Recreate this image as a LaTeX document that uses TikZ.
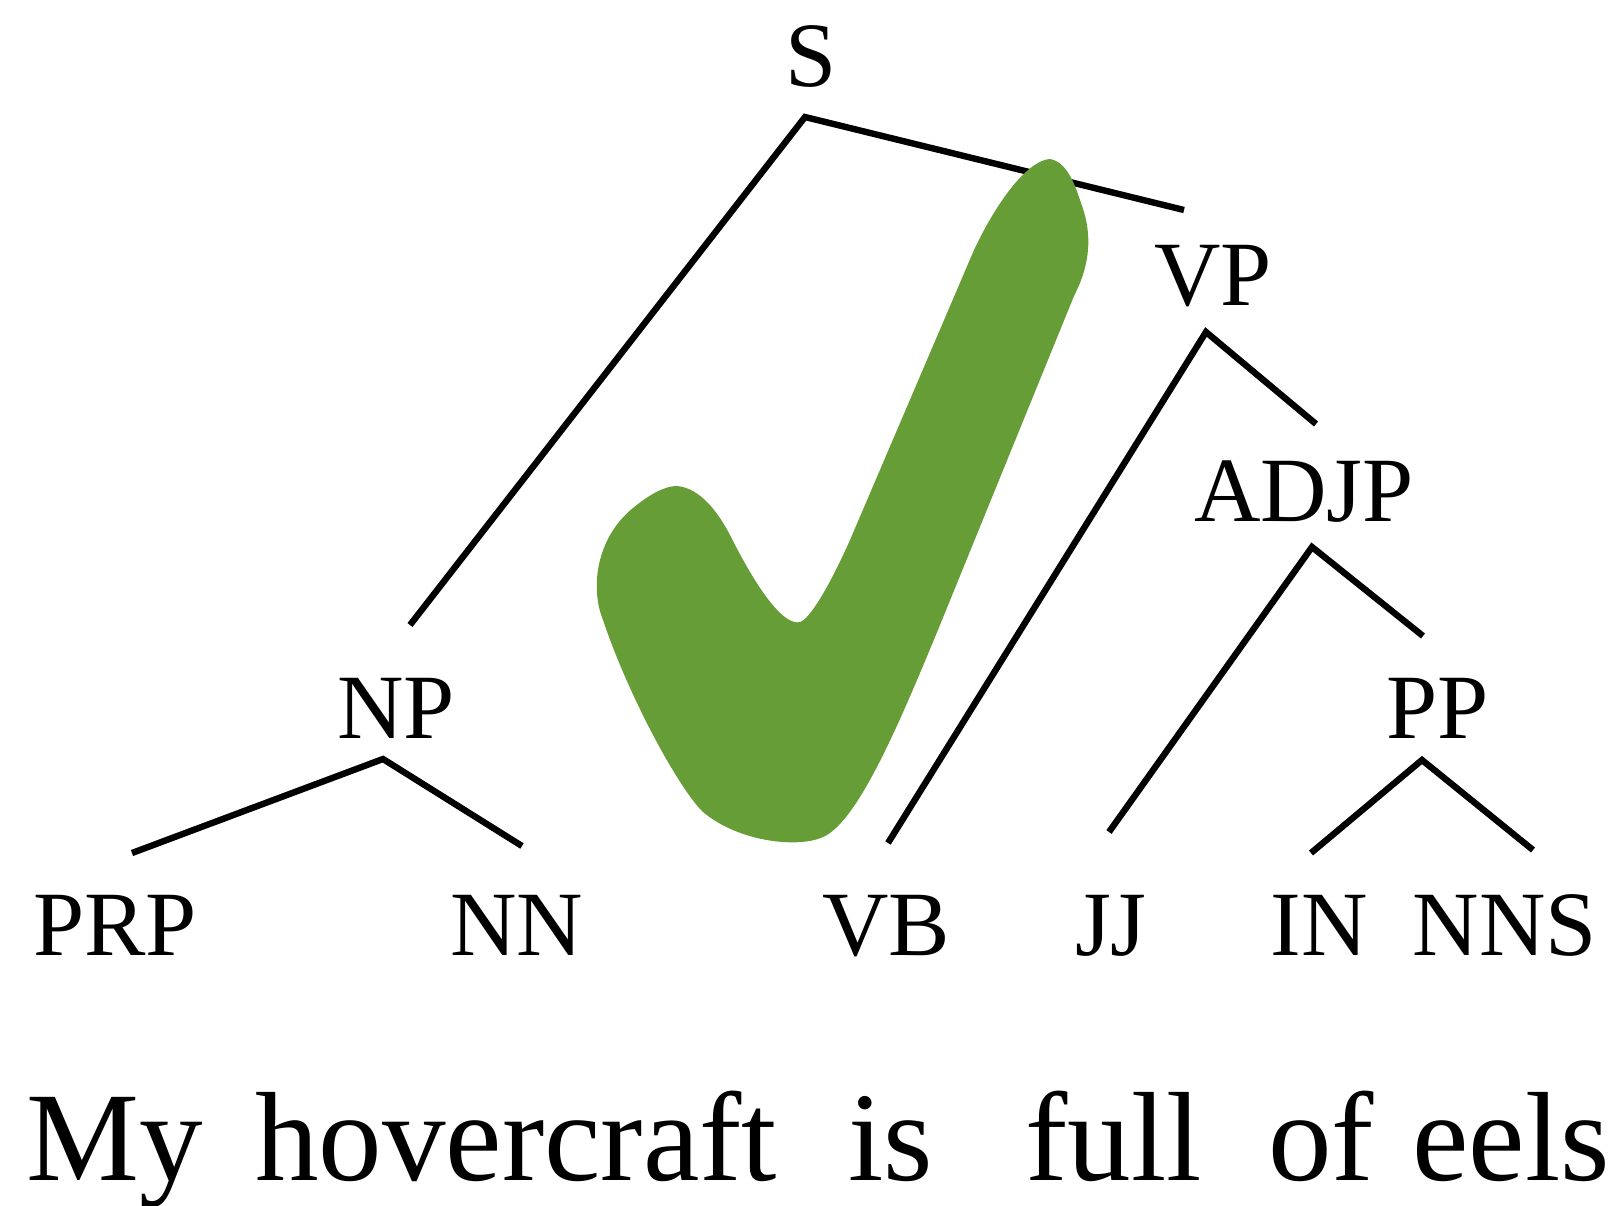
\documentclass[tikz,border=0pt]{standalone}
\usepackage{fontspec}
\setmainfont{Liberation Serif}
\definecolor{checkgreen}{RGB}{102,157,55}
\begin{document}
\begin{tikzpicture}[x=0.5pt,y=-0.5pt,
  lbl/.style={inner sep=0pt, anchor=base, font=\fontsize{46}{50}\selectfont},
  word/.style={inner sep=0pt, anchor=base west, font=\fontsize{63.5}{70}\selectfont},
  branch/.style={line width=3.2pt, draw=black, line join=miter},
  checkmark/.style={fill=checkgreen, draw=none}]
\useasboundingbox (0,0) rectangle (1614,1206);

% labels
\node[lbl] (S) at (811,86) {S};
\node[lbl] (VP) at (1213,305) {VP};
\node[lbl] (ADJP) at (1304,521) {ADJP};
\node[lbl] (NP) at (396,738) {NP};
\node[lbl] (PP) at (1438,738) {PP};
\node[lbl] (PRP) at (115,955) {PRP};
\node[lbl] (NN) at (517,955) {NN};
\node[lbl] (VB) at (886,955) {VB};
\node[lbl] (JJ) at (1111,955) {JJ};
\node[lbl] (IN) at (1319,955) {IN};
\node[lbl] (NNS) at (1505,955) {NNS};

% sentence
\node[word] (w1) at (26,1180) {My};
\node[word] (w2) at (255,1180) {hovercraft};
\node[word] (w3) at (848,1180) {is};
\node[word] (w4) at (1025,1180) {full};
\node[word] (w5) at (1268,1180) {of};
\node[word] (w6) at (1412,1180) {eels};

% branch points
\coordinate (S-b) at (805,117);
\coordinate (NP-t) at (410,625);
\coordinate (VP-t) at (1184,210);
\coordinate (VP-b) at (1206,332);
\coordinate (VB-t) at (888,843);
\coordinate (ADJP-t) at (1316,424);
\coordinate (ADJP-b) at (1312,547);
\coordinate (JJ-t) at (1109,832);
\coordinate (PP-t) at (1423,636);
\coordinate (NP-b) at (383,759);
\coordinate (PRP-t) at (132,853);
\coordinate (NN-t) at (522,846);
\coordinate (PP-b) at (1422,760);
\coordinate (IN-t) at (1311,853);
\coordinate (NNS-t) at (1533,850);

\draw[branch] (NP-t) -- (S-b) -- (VP-t);
\draw[branch] (VB-t) -- (VP-b) -- (ADJP-t);
\draw[branch] (JJ-t) -- (ADJP-b) -- (PP-t);
\draw[branch] (PRP-t) -- (NP-b) -- (NN-t);
\draw[branch] (IN-t) -- (PP-b) -- (NNS-t);

% check mark
\fill[checkmark] (1050,159)
  .. controls (1068,162) and (1076,188) .. (1081,203)
  .. controls (1093,235) and (1090,265) .. (1074,296)
  -- (940,625)
  .. controls (900,722) and (858,822) .. (823,837)
  .. controls (800,848) and (740,843) .. (703,812)
  .. controls (680,790) and (630,700) .. (603,620)
  .. controls (590,588) and (596,538) .. (633,508)
  .. controls (650,494) and (665,486) .. (677,486)
  .. controls (700,488) and (718,512) .. (730,535)
  .. controls (760,595) and (785,626) .. (800,622)
  .. controls (810,619) and (830,585) .. (850,540)
  -- (974,250)
  .. controls (1000,195) and (1030,160) .. (1050,159)
  -- cycle;
\end{tikzpicture}
\end{document}
